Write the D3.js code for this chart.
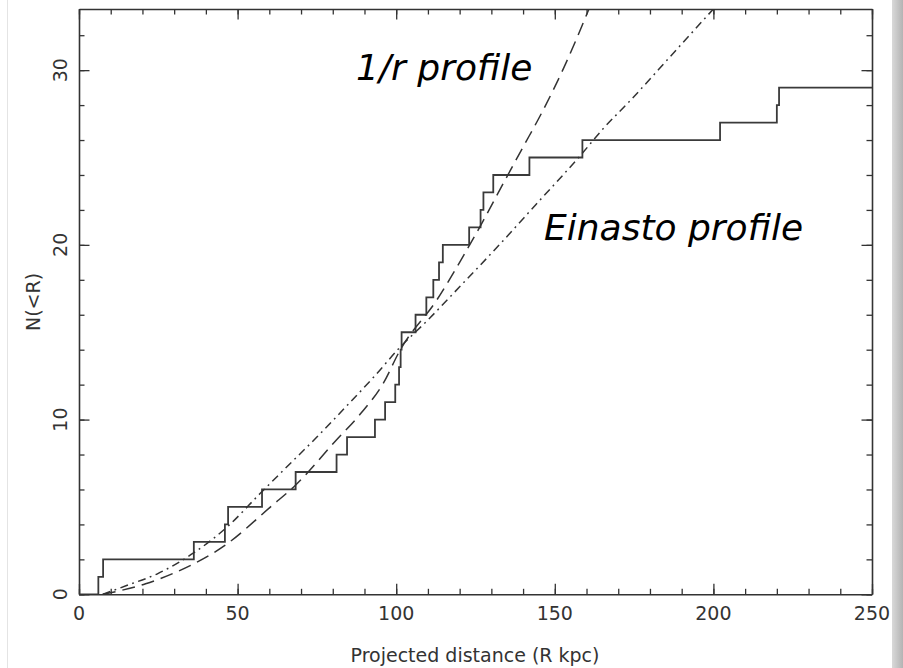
<!DOCTYPE html>
<html>
<head>
<meta charset="utf-8">
<script src="https://cdn.jsdelivr.net/npm/d3@7"></script>
<style>
  body { margin: 0; background: #fff; }
  svg { display: block; }
  text { font-family: "DejaVu Sans", sans-serif; fill: #333; }
</style>
</head>
<body>
<svg width="903" height="668"></svg>
<script>
// radii (kpc) where the cumulative count N(<R) goes up by one
const stepRadii = [6.1, 7.6, 36.2, 46.0, 47.0, 57.7, 68.3, 81.2, 84.5, 93.3,
  96.5, 99.7, 100.9, 101.4, 101.7, 106.1, 109.5, 111.7, 113.5, 114.7,
  123.0, 126.6, 127.5, 130.6, 142.0, 158.7, 202.1, 220.0, 220.7];

// 1/r profile
const rProfileR = [7.5, 21, 31, 46, 61, 68, 81, 88.6, 96, 101, 113, 120, 127.5, 134, 140, 146, 153, 161];
const rProfileN = [0, 0.6, 1.3, 2.8, 5.1, 6.2, 8.8, 10.3, 12.1, 13.9, 16.9, 19.0, 21.4, 23.6, 25.6, 27.6, 30.2, 33.6];

// Einasto profile
const einastoR = [7.5, 15, 25, 36, 47, 57, 65, 75, 85, 93, 101, 110, 120, 133, 144, 158, 165, 174, 187, 200];
const einastoN = [0, 0.5, 1.2, 2.35, 3.9, 5.75, 7.2, 9.0, 10.9, 12.45, 14.1, 15.7, 17.6, 20.1, 22.3, 25.1, 26.6, 28.3, 30.9, 33.5];

const xTicks = [0, 50, 100, 150, 200, 250];
const yTicks = [0, 10, 20, 30];

const svg = d3.select('svg');
const defs = svg.append('defs');

// picture frame: faint left rule and grey strip on the right
svg.append('line')
  .attr('x1', 7.5).attr('x2', 7.5).attr('y1', 0).attr('y2', 668)
  .attr('stroke', '#e4e4e4');
const grad = defs.append('linearGradient').attr('id', 'edge');
grad.append('stop').attr('offset', '0%').attr('stop-color', '#d9d9d9');
grad.append('stop').attr('offset', '100%').attr('stop-color', '#b3b3b3');
svg.append('rect')
  .attr('x', 892).attr('y', 0).attr('width', 11).attr('height', 668)
  .attr('fill', 'url(#edge)');

const x = d3.scaleLinear().domain([0, 250]).range([79, 872]);
const y = d3.scaleLinear().domain([0, 33.5]).range([594.3, 9]);

defs.append('clipPath').attr('id', 'plot')
  .append('rect')
  .attr('x', 79).attr('y', 9).attr('width', 793).attr('height', 585.3);

// frame and inward ticks on all four sides
const ink = '#333';
const axisStyle = g => {
  g.select('.domain').attr('stroke', ink).attr('stroke-width', 1.6);
  g.selectAll('.tick line').attr('stroke', ink).attr('stroke-width', 1.3);
  g.selectAll('.tick text').remove();
};

const xMinor = d3.range(0, 251, 10);
const yMinor = d3.range(0, 34, 2);
const sides = [
  [() => d3.axisBottom(x), `translate(0,${y(0)})`, xMinor, xTicks],
  [() => d3.axisTop(x), `translate(0,${y(33.5)})`, xMinor, xTicks],
  [() => d3.axisLeft(y), `translate(${x(0)},0)`, yMinor, yTicks],
  [() => d3.axisRight(y), `translate(${x(250)},0)`, yMinor, yTicks]
];
sides.forEach(([axis, tr, minor, major]) => {
  svg.append('g').attr('transform', tr)
    .call(axis().tickValues(minor).tickSizeInner(-5.5).tickSizeOuter(0))
    .call(axisStyle);
  svg.append('g').attr('transform', tr)
    .call(axis().tickValues(major).tickSizeInner(-10.5).tickSizeOuter(0))
    .call(axisStyle)
    .call(g => g.select('.domain').remove());
});

// tick labels
svg.append('g').selectAll('text').data(xTicks).join('text')
  .attr('x', d => x(d)).attr('y', 620)
  .attr('text-anchor', 'middle').attr('font-size', 19)
  .text(d => d);
svg.append('g').selectAll('text').data(yTicks).join('text')
  .attr('transform', d => `translate(66.5,${y(d)}) rotate(-90)`)
  .attr('text-anchor', 'middle').attr('font-size', 19)
  .text(d => d);

svg.append('text')
  .attr('x', 475).attr('y', 662)
  .attr('text-anchor', 'middle').attr('font-size', 19)
  .text('Projected distance (R kpc)');
svg.append('text')
  .attr('transform', `translate(40,302) rotate(-90)`)
  .attr('text-anchor', 'middle').attr('font-size', 19)
  .text('N(<R)');

// data
const plot = svg.append('g').attr('clip-path', 'url(#plot)');

const steps = [[0, 0]].concat(stepRadii.map((r, i) => [r, i + 1]), [[250, stepRadii.length]]);
plot.append('path')
  .attr('d', d3.line().x(d => x(d[0])).y(d => y(d[1])).curve(d3.curveStepAfter)(steps))
  .attr('fill', 'none').attr('stroke', '#3a3a3a').attr('stroke-width', 1.8);

const smooth = d3.line().x(d => x(d[0])).y(d => y(d[1])).curve(d3.curveMonotoneX);

plot.append('path')
  .attr('d', smooth(rProfileR.map((r, i) => [r, rProfileN[i]])))
  .attr('fill', 'none').attr('stroke', '#333').attr('stroke-width', 1.5)
  .attr('stroke-dasharray', '13,7');

plot.append('path')
  .attr('d', smooth(einastoR.map((r, i) => [r, einastoN[i]])))
  .attr('fill', 'none').attr('stroke', '#333').attr('stroke-width', 1.5)
  .attr('stroke-dasharray', '8,4.5,1.8,4.5');

// annotations
svg.append('text')
  .attr('x', 356).attr('y', 80)
  .attr('font-size', 36).attr('font-style', 'italic').style('fill', '#000')
  .text('1/r profile');
svg.append('text')
  .attr('x', 544).attr('y', 240)
  .attr('font-size', 36).attr('font-style', 'italic').style('fill', '#000')
  .text('Einasto profile');
</script>
</body>
</html>
